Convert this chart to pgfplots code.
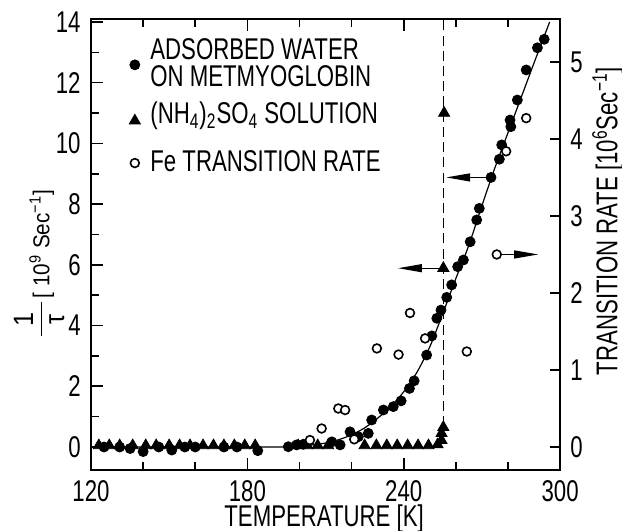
\documentclass[border=0pt]{standalone}
\usepackage{fontspec}
\setmainfont{Liberation Sans}[FakeStretch=0.74]
\newfontfamily\lblfont{Liberation Sans}[FakeStretch=0.9]
\usepackage{pgfplots}
\pgfplotsset{compat=1.18}
\usetikzlibrary{arrows.meta}

\pgfplotsset{
  base/.style={
    scale only axis, width=234.5pt, height=225.5pt,
    xmin=120, xmax=300,
    axis line style={line width=1pt},
    every tick/.style={black, line width=0.8pt},
    tick align=inside,
    major tick length=6pt, minor tick length=4pt,
    /pgf/number format/assume math mode=true,
  },
}

\begin{document}
\fontsize{15}{17}\selectfont
\begin{tikzpicture}
\begin{axis}[base,
    ymin=-0.758, ymax=14.10,
    xtick={120,180,240,300}, minor xtick={140,160,200,220,260,280},
    xtick pos=both,
    ytick={0,2,...,14}, minor ytick={1,3,...,13},
    ytick pos=left,
    xlabel={TEMPERATURE [K]},
    every axis x label/.style={at={(rel axis cs:0.497,-0.108)}, anchor=center, inner sep=1pt},
    ylabel={\lblfont\fontsize{11.5}{13}\selectfont
      {\fontsize{14}{16}\selectfont\begin{tabular}[c]{@{}c@{}}\makebox[17pt]{1}\\[-1pt]\hline\rule{0pt}{11pt}τ\end{tabular}}\,[ 10\textsuperscript{9} Sec\textsuperscript{−1}]},
    every axis y label/.style={at={(rel axis cs:-0.104,0.459)}, rotate=90, anchor=center},
    legend style={at={(rel axis cs:0.068,0.975)}, anchor=north west, draw=none, fill=none,
        row sep=7pt, font=\fontsize{15}{17}\selectfont},
    legend cell align=left,
]
\coordinate (bbl) at (rel axis cs:-0.194,-0.135);
\coordinate (btr) at (rel axis cs:1.132,1.042);

\draw[line width=0.6pt, dash pattern=on 5pt off 2.6pt] (axis cs:255.3,0.7) -- (axis cs:255.3,14.1);

% fitted curve
\addplot[black, line width=0.6pt, smooth, forget plot] coordinates {
(120,0)(190,0)(200,0.03)(205,0.07)(210,0.13)(215,0.24)(220,0.40)(225,0.63)
(230,0.95)(235,1.33)(240,1.82)(245,2.45)(250,3.30)(255,4.40)(260,5.55)
(265,6.65)(270,7.95)(275,9.20)(280,10.35)(285,11.50)(290,12.65)(296,14.0)};

% adsorbed water on metmyoglobin
\addplot[only marks, mark=*, mark size=2.5pt, black] coordinates {
(125,0)(131,0)(135,-0.05)(140,-0.15)(146,0)(151,-0.1)(156,0)(160,0)
(171,0)(176,0)(184,-0.12)(195.7,0.01)(198.9,0.07)(201.5,0.09)(212.4,0.17)
(215.6,0.07)(219.4,0.50)(222.6,0.34)(226.4,0.45)(227.7,0.89)(232.2,1.22)
(236.0,1.33)(239.0,1.52)(242.2,1.93)(244.0,2.18)(248.8,3.03)(250.8,3.66)
(252.7,4.24)(254.3,4.51)(256.5,4.93)(258.4,5.34)(260.7,5.94)(262.9,6.16)
(265.5,6.76)(268.0,7.48)(269.0,7.86)(273.5,8.88)(276.7,9.48)(277.6,9.95)
(280.8,10.77)(281.1,10.55)(283.6,11.43)(287.0,12.42)(291.3,13.15)(293.9,13.43)};
\addlegendentry{\hspace*{3pt}\makebox[0pt][l]{\raisebox{13.5pt}{ADSORBED WATER}}ON METMYOGLOBIN}

% (NH4)2SO4 solution
\addplot[only marks, mark=triangle*, mark size=3.2pt, black] coordinates {
(123,0.05)(127,0.05)(131,0.05)(136,0.05)(141,0.05)(145,0.05)(150,0.05)(154,0.05)
(158,0.05)(163,0.05)(167,0.05)(171,0.05)(175,0.05)(179,0.05)(183,0.05)
(199.5,0.05)(203,0.05)(207,0.05)(211,0.05)(225,0.05)(229.5,0.05)(233.5,0.05)
(237.5,0.05)(241.5,0.05)(245.5,0.05)(249.5,0.05)(253,0.08)(254.5,0.22)
(254.5,0.45)(255.2,0.65)(255.2,5.89)(255.5,11.0)};
\addlegendentry{\hspace*{3pt}\raisebox{0pt}[\dimexpr\height-5.5pt\relax]{(NH\textsubscript{4})\textsubscript{2}SO\textsubscript{4} SOLUTION}}

\addlegendimage{only marks, mark=*, mark size=2.2pt, black, fill=white, line width=0.8pt}
\addlegendentry{\hspace*{3pt}Fe TRANSITION RATE}

\draw[line width=0.6pt, -{Triangle[length=12pt,width=4pt]}] (axis cs:273.3,8.88) -- (axis cs:256.3,8.88);
\draw[line width=0.6pt, -{Triangle[length=12pt,width=4pt]}] (axis cs:255.2,5.89) -- (axis cs:237.8,5.89);
\end{axis}

\begin{axis}[base,
    ymin=-0.299, ymax=5.558,
    axis x line=none, axis y line*=right,
    ytick={0,1,...,5},
    major tick length=5pt,
    ylabel={TRANSITION RATE [10\textsuperscript{6}Sec\textsuperscript{−1}]},
    every axis y label/.style={at={(rel axis cs:1.102,0.552)}, rotate=90, anchor=center},
]
\draw[line width=0.6pt, -{Triangle[length=12pt,width=4pt]}] (axis cs:277.5,2.50) -- (axis cs:291.6,2.50);
% Fe transition rate
\addplot[only marks, mark=*, mark size=2.2pt, black, fill=white, line width=0.8pt] coordinates {
(204,0.09)(208.5,0.24)(214.9,0.50)(217.5,0.48)(221,0.10)(229.7,1.28)(238,1.20)
(242.4,1.74)(248.2,1.41)(264.2,1.24)(275.7,2.50)(279.3,3.84)(287,4.27)};
\end{axis}
\pgfresetboundingbox
\path[use as bounding box] (bbl) rectangle (btr);
\end{tikzpicture}
\end{document}
